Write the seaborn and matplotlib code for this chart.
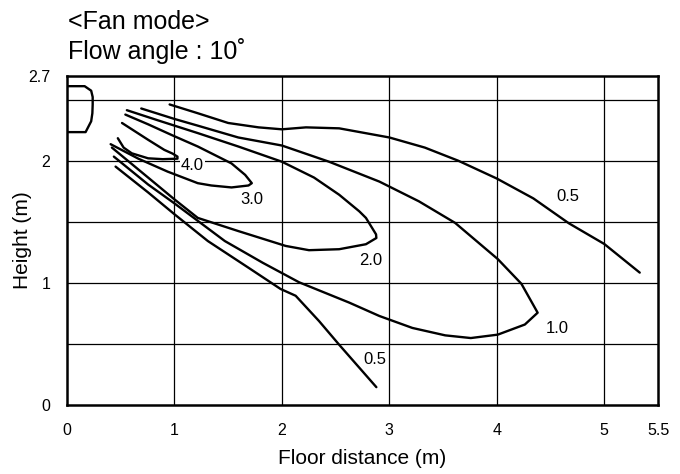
import matplotlib
matplotlib.use('Agg')
import matplotlib.pyplot as plt
import pandas as pd
import seaborn as sns

# --- air velocity contours (m/s) ---
# closed contours run upper branch -> tip -> lower branch
c40_x = [0.512, 0.755, 0.906, 0.982, 1.028, 1.028, 0.891, 0.755, 0.603, 0.527, 0.473]
c40_y = [2.312, 2.174, 2.091, 2.061, 2.036, 2.019, 2.015, 2.022, 2.063, 2.110, 2.187]

c30_x = [0.543, 0.755, 0.982, 1.217, 1.531, 1.658, 1.720, 1.689, 1.531, 1.343, 1.217, 0.936, 0.664, 0.406]
c30_y = [2.381, 2.301, 2.210, 2.119, 1.980, 1.886, 1.818, 1.799, 1.783, 1.799, 1.818, 1.913, 2.019, 2.138]

c20_x = [0.557, 0.845, 1.217, 1.594, 2.000, 2.299, 2.533, 2.720, 2.782, 2.876, 2.879,
         2.782, 2.533, 2.252, 2.035, 1.594, 1.217, 1.000, 0.755, 0.418]
c20_y = [2.417, 2.334, 2.229, 2.119, 1.994, 1.864, 1.723, 1.587, 1.533, 1.398, 1.368,
         1.317, 1.276, 1.268, 1.303, 1.425, 1.533, 1.685, 1.864, 2.110]

c10_x = [0.691, 1.000, 1.217, 1.594, 2.000, 2.439, 2.907, 3.275, 3.612, 4.009, 4.229, 4.380,
         4.261, 4.009, 3.758, 3.520, 3.214, 2.907, 2.626, 2.159, 1.821, 1.469, 1.000, 0.755, 0.436]
c10_y = [2.431, 2.345, 2.290, 2.193, 2.127, 1.994, 1.831, 1.669, 1.492, 1.195, 0.992, 0.755,
         0.658, 0.575, 0.547, 0.569, 0.630, 0.728, 0.838, 1.005, 1.165, 1.343, 1.652, 1.807, 2.036]

# the 0.5 m/s contour runs out of the chart, so it is two open pieces
c05_upper_x = [0.955, 1.217, 1.500, 1.783, 2.000, 2.224, 2.533, 3.000, 3.330, 3.642, 4.000, 4.340, 4.670, 5.000, 5.330]
c05_upper_y = [2.464, 2.392, 2.312, 2.276, 2.260, 2.276, 2.268, 2.193, 2.110, 2.002, 1.856, 1.693, 1.489, 1.319, 1.084]
c05_lower_x = [0.452, 0.755, 1.000, 1.311, 1.689, 1.987, 2.128, 2.346, 2.533, 2.879]
c05_lower_y = [1.954, 1.742, 1.563, 1.343, 1.124, 0.950, 0.894, 0.686, 0.492, 0.144]

# indoor unit outlet outline at the top left
outlet_x = [0.0, 0.164, 0.225, 0.239, 0.239, 0.236, 0.225, 0.173, 0.0]
outlet_y = [2.614, 2.614, 2.577, 2.525, 2.464, 2.392, 2.326, 2.237, 2.237]

label_text = ['4.0', '3.0', '2.0', '1.0', '0.5', '0.5']
label_x = [1.167, 1.720, 2.827, 4.561, 4.660, 2.869]
label_y = [1.962, 1.682, 1.181, 0.623, 1.709, 0.372]

x_ticks = [0, 1, 2, 3, 4, 5, 5.5]
x_tick_labels = ['0', '1', '2', '3', '4', '5', '5.5']
y_ticks = [0, 1, 2, 2.7]
y_tick_labels = ['0', '1', '2', '2.7']
x_grid = [1, 2, 3, 4, 5]
y_grid = [0.5, 1, 1.5, 2, 2.5]

curves = {
    '4.0': (c40_x, c40_y),
    '3.0': (c30_x, c30_y),
    '2.0': (c20_x, c20_y),
    '1.0': (c10_x, c10_y),
    '0.5a': (c05_upper_x, c05_upper_y),
    '0.5b': (c05_lower_x, c05_lower_y),
    'outlet': (outlet_x, outlet_y),
}
df = pd.concat(
    [pd.DataFrame({'x': x, 'y': y, 'curve': name}) for name, (x, y) in curves.items()],
    ignore_index=True,
)

sns.set_style('white')
plt.rcParams['font.family'] = ['Liberation Sans', 'DejaVu Sans']
plt.rcParams['text.color'] = 'black'
plt.rcParams['axes.labelcolor'] = 'black'

fig = plt.figure(figsize=(6.8, 4.74), dpi=100)
ax = fig.add_axes([67 / 680, 1 - 404.7 / 474, (658 - 67) / 680, (404.7 - 75.7) / 474])

sns.lineplot(data=df, x='x', y='y', units='curve', estimator=None, sort=False,
             color='black', linewidth=1.7, legend=False, ax=ax)

for t, lx, ly in zip(label_text, label_x, label_y):
    ax.text(lx, ly, t, ha='center', va='center', fontsize=12, color='black',
            bbox=dict(facecolor='white', edgecolor='none', pad=1))

ax.set_xlim(0, 5.5)
ax.set_ylim(0, 2.7)
ax.set_xticks(x_ticks, x_tick_labels)
ax.set_yticks(y_ticks, y_tick_labels)
ax.tick_params(which='both', length=0, labelsize=11.5, colors='black')
ax.tick_params(axis='x', pad=13)
ax.tick_params(axis='y', pad=12)
# grid drawn as reference lines, since the grid positions differ from the labelled ticks
for gx in x_grid:
    ax.axvline(gx, color='black', linewidth=0.9, zorder=0.5)
for gy in y_grid:
    ax.axhline(gy, color='black', linewidth=0.9, zorder=0.5)
for s in ax.spines.values():
    s.set_visible(True)
    s.set_color('black')
    s.set_linewidth(1.8)

ax.set_xlabel('Floor distance (m)', fontsize=15, labelpad=8, color='black')
ax.set_ylabel('Height (m)', fontsize=15, labelpad=-3, color='black')

fig.text(68 / 680, 1 - 10 / 474, '<Fan mode>\nFlow angle : 10˚', ha='left', va='top',
         fontsize=18, linespacing=1.2, color='black')

fig.savefig('out.png', dpi=100)
